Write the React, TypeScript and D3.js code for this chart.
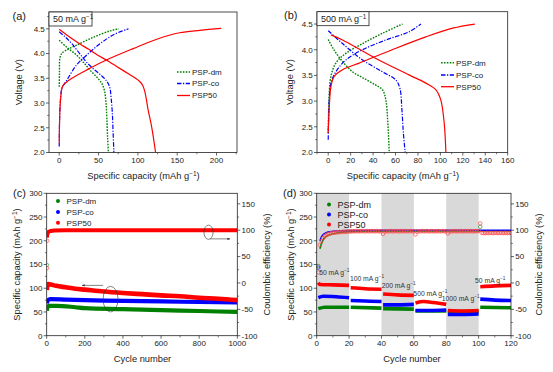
import React from "react";
import * as d3 from "d3";

type P = [number, number];

// ---------- Panel (a): 50 mA g-1 ----------
const aDmCharge: P[] = [[0, 3.33], [0.3, 3.6], [0.8, 3.9], [3, 4.0], [8, 4.06], [22, 4.17], [43.5, 4.33], [65, 4.46], [76, 4.5]];
const aDmDischarge: P[] = [[0, 4.27], [10, 4.12], [22, 3.97], [32, 3.8], [40, 3.65], [48, 3.52], [54, 3.4], [57.5, 3.25], [59.5, 3.0], [60.5, 2.7], [61.5, 2.3], [62.5, 2.0]];
const aCoCharge: P[] = [[0, 2.12], [0.5, 2.7], [1.5, 3.05], [3.5, 3.3], [10, 3.47], [22, 3.77], [35, 3.97], [52, 4.2], [69, 4.38], [88, 4.5]];
const aCoDischarge: P[] = [[0, 4.44], [8, 4.33], [16, 4.2], [26, 4.0], [35, 3.82], [45, 3.67], [54, 3.55], [61, 3.43], [64.5, 3.3], [66, 3.1], [67.5, 2.8], [68.5, 2.4], [69.5, 2.0]];
const aP50Charge: P[] = [[0, 2.2], [1, 2.9], [2.5, 3.2], [4, 3.33], [7.6, 3.4], [16, 3.5], [35, 3.67], [60, 3.87], [94, 4.1], [124, 4.29], [153, 4.42], [179, 4.47], [206, 4.51]];
const aP50Discharge: P[] = [[0, 4.49], [10, 4.37], [22, 4.24], [37, 4.09], [52, 3.94], [63, 3.84], [73, 3.74], [82, 3.65], [90, 3.57], [97, 3.5], [102, 3.44], [106, 3.36], [108.5, 3.25], [110.5, 3.1], [113, 2.86], [117.5, 2.52], [122.5, 2.0]];

// ---------- Panel (b): 500 mA g-1 ----------
const bDmCharge: P[] = [[0, 2.38], [0.9, 3.15], [2.4, 3.48], [6.8, 3.74], [15.7, 3.93], [30.6, 4.12], [48.4, 4.32], [66.2, 4.5]];
const bDmDischarge: P[] = [[0, 4.2], [5.3, 3.99], [12.8, 3.77], [21.7, 3.57], [32, 3.44], [42.5, 3.31], [48.4, 3.22], [51.4, 3.02], [53, 2.63], [54.4, 2.0]];
const bCoCharge: P[] = [[0, 2.25], [0.9, 3.02], [2.4, 3.35], [6.8, 3.57], [15.7, 3.8], [30.6, 4.0], [51.4, 4.19], [72.2, 4.35], [82.6, 4.5]];
const bCoDischarge: P[] = [[0, 4.37], [12.8, 4.12], [30.6, 3.8], [48.4, 3.57], [60.3, 3.41], [63.9, 3.25], [65.7, 2.83], [67, 2.38], [68.6, 2.0]];
const bP50Charge: P[] = [[0, 2.38], [1, 2.9], [2.4, 3.28], [5.3, 3.48], [12.8, 3.61], [27.6, 3.74], [57, 4.0], [87, 4.25], [111, 4.42], [130.7, 4.5]];
const bP50Discharge: P[] = [[2.4, 4.29], [12.8, 4.19], [42.5, 3.83], [72, 3.51], [87, 3.35], [96, 3.22], [100.4, 3.02], [103.4, 2.57], [104.9, 2.0]];

// ---------- Panel (c): long cycling ----------
const cDmCap: P[] = [[1, 53], [5, 60], [12, 63], [50, 63], [150, 60], [200, 58], [400, 56], [600, 54], [800, 52], [1000, 50]];
const cCoCap: P[] = [[1, 68], [5, 74], [20, 77], [100, 76], [300, 74], [500, 73], [700, 71.5], [1000, 70]];
const cP50Cap: P[] = [[1, 96], [3, 105], [8, 109], [20, 108], [50, 105], [100, 102], [150, 99], [200, 97], [300, 93], [400, 90], [500, 87.5], [600, 85], [700, 83], [800, 80], [900, 78], [1000, 75]];
const cP50Eff: P[] = [[1, 86], [3, 91], [6, 95], [10, 97], [20, 98.5], [40, 99.5], [100, 100], [1000, 100]];
const cOutliers: { cycle: number; eff: number; series: string }[] = [
  { cycle: 2, eff: 34, series: "dm" },
  { cycle: 2, eff: 28, series: "p50" },
  { cycle: 3, eff: 80, series: "p50" },
];
const cEllipses = [
  { cycle: 849, cap: 218, rc: 24, rv: 15 },
  { cycle: 335, cap: 77, rc: 39, rv: 27 },
];
const cArrows = [
  { c1: 857, v1: 204, c2: 962, v2: 204 },
  { c1: 296, v1: 106, c2: 185, v2: 106 },
];

// ---------- Panel (d): rate capability ----------
const dDmCap: P[][] = [
  [[1, 57], [5, 60], [20, 60]],
  [[21, 60], [40, 58]],
  [[41, 57], [60, 56]],
  [[61, 52], [80, 52]],
  [[81, 51], [100, 51]],
  [[101, 60], [120, 59]],
];
const dCoCap: P[][] = [
  [[1, 80], [4, 83], [12, 82], [20, 80]],
  [[21, 74], [30, 73], [40, 72]],
  [[41, 65], [50, 65], [60, 66]],
  [[61, 53], [70, 53], [80, 54]],
  [[81, 45], [90, 45], [100, 46]],
  [[101, 77], [110, 75], [120, 74]],
];
const dP50Cap: P[][] = [
  [[1, 112], [2, 108], [10, 107], [20, 106]],
  [[21, 101], [30, 99], [40, 98]],
  [[41, 88], [50, 86], [60, 85]],
  [[61, 69], [66, 72], [72, 70], [80, 66]],
  [[81, 53], [90, 52], [100, 53]],
  [[101, 103], [110, 105], [120, 106]],
];
const dP50Eff: number[] = [
  20, 72, 80, 85, 89, 91, 92.5, 93.5, 94.5, 95, 95.5, 96, 96, 96.5, 96.5, 97, 97, 97, 97.5, 97.5,
  98, 98, 98, 98, 98.5, 98, 98, 98.5, 98, 98, 98.5, 98, 98, 98.5, 98, 98, 98.5, 98, 98, 98,
  93, 97.5, 98, 98, 98, 98.5, 98, 98, 98.5, 98, 98, 98.5, 98, 98, 98.5, 98, 98, 98.5, 98, 98,
  92, 97.5, 98, 98, 98.5, 98, 98, 98.5, 98, 98, 98.5, 98, 98, 98, 98.5, 98, 98, 98.5, 98, 98,
  94, 97.5, 98, 98, 98.5, 98, 98, 98, 98.5, 98, 98, 98.5, 98, 98, 98.5, 98, 98, 98.5, 98, 98.5,
  113, 95, 94.5, 94.5, 95, 94.5, 95, 95, 94.5, 95, 95, 94.5, 95, 95, 94.5, 95, 95, 94.5, 95, 95,
];
const dCoEff: P[] = [[2, 80], [3, 88], [4, 92], [5, 94], [7, 96.5], [10, 98], [15, 99], [20, 99.5], [40, 100], [120, 100]];
const dDmEff: P[] = [[2, 65], [3, 75], [4, 82], [5, 86], [7, 90], [10, 93], [15, 96], [20, 97], [30, 98], [120, 98.5]];
const dOpenExtra: { cycle: number; eff: number; series: string }[] = [
  { cycle: 1, eff: 32, series: "dm" },
  { cycle: 1, eff: 29, series: "co" },
  { cycle: 101, eff: 106.5, series: "dm" },
];
const dBands: P[] = [[0, 20], [40, 60], [80, 100]];
const dRateLabels: { cycle: number; cap: number; rate: string }[] = [
  { cycle: 1.5, cap: 127, rate: "50" },
  { cycle: 20.5, cap: 115, rate: "100" },
  { cycle: 40.1, cap: 101.5, rate: "200" },
  { cycle: 59.7, cap: 84, rate: "500" },
  { cycle: 77.2, cap: 73.5, rate: "1000" },
  { cycle: 97.8, cap: 112, rate: "50" },
];

// ---------- ticks ----------
const aXTicks = [0, 50, 100, 150, 200];
const bXTicks = [0, 20, 40, 60, 80, 100, 120, 140, 160];
const vTicks = [2.0, 2.5, 3.0, 3.5, 4.0, 4.5];
const cXTicks = [0, 200, 400, 600, 800, 1000];
const dXTicks = [0, 20, 40, 60, 80, 100, 120];
const capTicks = [0, 50, 100, 150, 200, 250, 300];
const effTicks = [-100, -50, 0, 50, 100, 150];

const seriesNames = ["PSP-dm", "PSP-co", "PSP50"];
const GREEN = "#008000";
const BLUE = "#0000ff";
const RED = "#ff0000";
const colorOf: Record<string, string> = { dm: GREEN, co: BLUE, p50: RED };
const FONT = "'Liberation Sans', Arial, Helvetica, sans-serif";
const AXC = "#222";

function minorOf(major: number[], domain: number[]) {
  const step = major[1] - major[0];
  const lo = Math.min(domain[0], domain[1]);
  const hi = Math.max(domain[0], domain[1]);
  const out: number[] = [];
  for (let i = -1; i < major.length; i++) {
    const v = major[0] + (i + 0.5) * step;
    if (v >= lo && v <= hi) out.push(v);
  }
  return out;
}

type S = d3.ScaleLinear<number, number>;

function Sup({ pre, post = "" }: { pre: string; post?: string }) {
  return (
    <>
      {pre}
      <tspan dy={-3} fontSize="70%">−1</tspan>
      <tspan dy={3}>{post}</tspan>
    </>
  );
}

function BottomAxis({ s, y, major, fmt }: { s: S; y: number; major: number[]; fmt: (v: number) => string }) {
  const minor = minorOf(major, s.domain());
  return (
    <g>
      {major.map((v) => (
        <line key={"M" + v} x1={s(v)} x2={s(v)} y1={y} y2={y + 3} stroke={AXC} strokeWidth={0.7} />
      ))}
      {minor.map((v) => (
        <line key={"m" + v} x1={s(v)} x2={s(v)} y1={y} y2={y + 1.8} stroke={AXC} strokeWidth={0.6} />
      ))}
      {major.map((v) => (
        <text key={"t" + v} x={s(v)} y={y + 10.4} textAnchor="middle" fontSize={8} fill="#222">
          {fmt(v)}
        </text>
      ))}
    </g>
  );
}

function SideAxis({ s, x, major, fmt, side }: { s: S; x: number; major: number[]; fmt: (v: number) => string; side: "left" | "right" }) {
  const minor = minorOf(major, s.domain());
  const d = side === "left" ? -1 : 1;
  return (
    <g>
      {major.map((v) => (
        <line key={"M" + v} x1={x} x2={x + d * 3} y1={s(v)} y2={s(v)} stroke={AXC} strokeWidth={0.7} />
      ))}
      {minor.map((v) => (
        <line key={"m" + v} x1={x} x2={x + d * 1.8} y1={s(v)} y2={s(v)} stroke={AXC} strokeWidth={0.6} />
      ))}
      {major.map((v) => (
        <text
          key={"t" + v}
          x={x + d * 4.2}
          y={s(v)}
          dy="0.35em"
          textAnchor={side === "left" ? "end" : "start"}
          fontSize={8}
          fill="#222"
        >
          {fmt(v)}
        </text>
      ))}
    </g>
  );
}

function VTitle({ x, y, children }: { x: number; y: number; children: React.ReactNode }) {
  return (
    <text transform={`translate(${x},${y}) rotate(-90)`} dy="0.35em" textAnchor="middle" fontSize={9.3} fill="#222">
      {children}
    </text>
  );
}

const styles = {
  dm: { stroke: GREEN, dash: "1.6 1.3", w: 1.4 },
  co: { stroke: BLUE, dash: "4.5 1.5 1.2 1.5", w: 1.2 },
  p50: { stroke: RED, dash: "", w: 1.2 },
};

function VoltagePanel({
  L, R, T, B, xDom, yDom, xTicks, curves, label, rate, boxW, legX, legY, xTitleX,
  yTitleX,
}: {
  L: number; R: number; T: number; B: number; xDom: [number, number]; yDom: [number, number];
  xTicks: number[]; curves: { key: "dm" | "co" | "p50"; data: P[] }[]; label: string; rate: string;
  boxW: number; legX: number; legY: number[]; xTitleX: number; yTitleX: number;
}) {
  const x = d3.scaleLinear().domain(xDom).range([L, R]);
  const y = d3.scaleLinear().domain(yDom).range([B, T]);
  const line = d3
    .line<P>()
    .x((d) => x(d[0]))
    .y((d) => y(d[1]))
    .curve(d3.curveCatmullRom.alpha(0.5));
  const keys: ("dm" | "co" | "p50")[] = ["dm", "co", "p50"];
  return (
    <g>
      <defs>
        <clipPath id={"clip" + label}>
          <rect x={L} y={T} width={R - L} height={B - T} />
        </clipPath>
      </defs>
      <g clipPath={`url(#clip${label})`}>
        {curves.map((c, i) => (
          <path
            key={i}
            d={line(c.data) || ""}
            fill="none"
            stroke={styles[c.key].stroke}
            strokeWidth={styles[c.key].w}
            strokeDasharray={styles[c.key].dash}
          />
        ))}
      </g>
      <rect x={L} y={T} width={R - L} height={B - T} fill="none" stroke={AXC} strokeWidth={0.8} />
      <BottomAxis s={x} y={B} major={xTicks} fmt={(v) => String(v)} />
      <SideAxis s={y} x={L} major={vTicks} fmt={d3.format(".1f")} side="left" />
      <rect x={L} y={T} width={boxW} height={14} fill="#fff" stroke={AXC} strokeWidth={0.8} />
      <text x={L + 4} y={T + 10.2} fontSize={9} fill="#222">
        <Sup pre={rate + " mA g"} />
      </text>
      {keys.map((k, i) => (
        <g key={k}>
          <line
            x1={legX}
            x2={legX + 13}
            y1={legY[i]}
            y2={legY[i]}
            stroke={styles[k].stroke}
            strokeWidth={styles[k].w + 0.1}
            strokeDasharray={styles[k].dash}
          />
          <text x={legX + 15} y={legY[i]} dy="0.35em" fontSize={8} fill="#222">
            {seriesNames[i]}
          </text>
        </g>
      ))}
      <text x={xTitleX} y={B + 26} textAnchor="middle" fontSize={9.3} fill="#222">
        <Sup pre="Specific capacity (mAh g" post=")" />
      </text>
      <VTitle x={yTitleX} y={(T + B) / 2}>Voltage (V)</VTitle>
    </g>
  );
}

function CyclePanelFrame({
  L, R, T, B, x, yl, yr, xTicks, xTitleX, lTitleX, rTitleX,
}: {
  L: number; R: number; T: number; B: number; x: S; yl: S; yr: S; xTicks: number[];
  xTitleX: number; lTitleX: number; rTitleX: number;
}) {
  return (
    <g>
      <rect x={L} y={T} width={R - L} height={B - T} fill="none" stroke={AXC} strokeWidth={0.8} />
      <BottomAxis s={x} y={B} major={xTicks} fmt={(v) => String(v)} />
      <SideAxis s={yl} x={L} major={capTicks} fmt={(v) => String(v)} side="left" />
      <SideAxis s={yr} x={R} major={effTicks} fmt={(v) => String(v)} side="right" />
      <text x={xTitleX} y={B + 26.3} textAnchor="middle" fontSize={9.3} fill="#222">
        Cycle number
      </text>
      <VTitle x={lTitleX} y={(T + B) / 2}>
        <Sup pre="Specific capacity (mAh g" post=")" />
      </VTitle>
      <VTitle x={rTitleX} y={(T + B) / 2}>Coulombic efficiency (%)</VTitle>
    </g>
  );
}

function DotLegend({ x, ys, fs }: { x: number; ys: number[]; fs: number }) {
  const cols = [GREEN, BLUE, RED];
  return (
    <g>
      {seriesNames.map((n, i) => (
        <g key={n}>
          <circle cx={x} cy={ys[i]} r={2} fill={cols[i]} />
          <text x={x + 8.5} y={ys[i]} dy="0.35em" fontSize={fs} fill="#222">
            {n}
          </text>
        </g>
      ))}
    </g>
  );
}

function PanelC() {
  const L = 46.7, R = 237.3, T = 193.3, B = 335.7;
  const x = d3.scaleLinear().domain([0, 1000]).range([L, R]);
  const yl = d3.scaleLinear().domain([0, 300]).range([B, T]);
  const yr = d3.scaleLinear().domain([-100, 170]).range([B, T]);
  const lineL = d3.line<P>().x((d) => x(d[0])).y((d) => yl(d[1])).curve(d3.curveMonotoneX);
  const lineR = d3.line<P>().x((d) => x(d[0])).y((d) => yr(d[1])).curve(d3.curveMonotoneX);
  return (
    <g>
      <defs>
        <clipPath id="clipC">
          <rect x={L} y={T} width={R - L} height={B - T} />
        </clipPath>
      </defs>
      <g clipPath="url(#clipC)">
        <path d={lineL(cDmCap) || ""} fill="none" stroke={GREEN} strokeWidth={4.2} />
        <path d={lineL(cCoCap) || ""} fill="none" stroke={BLUE} strokeWidth={4.2} />
        <path d={lineL(cP50Cap) || ""} fill="none" stroke={RED} strokeWidth={4.6} />
        <path d={lineR(cP50Eff) || ""} fill="none" stroke={RED} strokeWidth={4} />
        {cOutliers.map((o, i) => (
          <circle key={i} cx={x(o.cycle)} cy={yr(o.eff)} r={1.7} fill="#fff" stroke={colorOf[o.series]} strokeWidth={0.6} opacity={0.8} />
        ))}
      </g>
      {cEllipses.map((e, i) => (
        <ellipse
          key={i}
          cx={x(e.cycle)}
          cy={yl(e.cap)}
          rx={x(e.cycle + e.rc) - x(e.cycle)}
          ry={yl(e.cap - e.rv) - yl(e.cap)}
          fill="none"
          stroke="#333"
          strokeWidth={0.6}
        />
      ))}
      {cArrows.map((a, i) => (
        <line
          key={i}
          x1={x(a.c1)}
          y1={yl(a.v1)}
          x2={x(a.c2)}
          y2={yl(a.v2)}
          stroke="#333"
          strokeWidth={0.6}
          markerEnd="url(#arrowHead)"
        />
      ))}
      <DotLegend x={58} ys={[201, 212, 222.7]} fs={8} />
      <CyclePanelFrame L={L} R={R} T={T} B={B} x={x} yl={yl} yr={yr} xTicks={cXTicks} xTitleX={142.5} lTitleX={17} rTitleX={267} />
    </g>
  );
}

function PanelD() {
  const L = 316.7, R = 511, T = 193.3, B = 335.7;
  const x = d3.scaleLinear().domain([0, 120]).range([L, R]);
  const yl = d3.scaleLinear().domain([0, 300]).range([B, T]);
  const yr = d3.scaleLinear().domain([-100, 170]).range([B, T]);
  const lineL = d3.line<P>().x((d) => x(d[0])).y((d) => yl(d[1])).curve(d3.curveMonotoneX);
  const lineR = d3.line<P>().x((d) => x(d[0])).y((d) => yr(d[1])).curve(d3.curveMonotoneX);
  return (
    <g>
      {dBands.map((b, i) => (
        <rect key={i} x={x(b[0])} y={T} width={x(b[1]) - x(b[0])} height={B - T} fill="#d9d9d9" />
      ))}
      <defs>
        <clipPath id="clipD">
          <rect x={L} y={T} width={R - L} height={B - T} />
        </clipPath>
      </defs>
      <g clipPath="url(#clipD)">
        {dDmCap.map((seg, i) => (
          <path key={"g" + i} d={lineL(seg) || ""} fill="none" stroke={GREEN} strokeWidth={3.6} />
        ))}
        {dCoCap.map((seg, i) => (
          <path key={"b" + i} d={lineL(seg) || ""} fill="none" stroke={BLUE} strokeWidth={3.6} />
        ))}
        {dP50Cap.map((seg, i) => (
          <path key={"r" + i} d={lineL(seg) || ""} fill="none" stroke={RED} strokeWidth={3.6} />
        ))}
        <path d={lineR(dDmEff) || ""} fill="none" stroke={GREEN} strokeWidth={1.6} />
        <path d={lineR(dCoEff) || ""} fill="none" stroke={BLUE} strokeWidth={1.5} />
        {dOpenExtra.map((o, i) => (
          <circle key={"o" + i} cx={x(o.cycle)} cy={yr(o.eff)} r={1.8} fill="none" stroke={colorOf[o.series]} strokeWidth={0.6} />
        ))}
        {dP50Eff.map((v, i) => (
          <circle key={"e" + i} cx={x(i + 1)} cy={yr(v)} r={1.8} fill="none" stroke="#ff4a4a" strokeWidth={0.7} />
        ))}
      </g>
      {dRateLabels.map((r, i) => (
        <text key={i} x={x(r.cycle)} y={yl(r.cap)} fontSize={6.8} fill="#333">
          <Sup pre={r.rate + " mA g"} />
        </text>
      ))}
      <DotLegend x={329} ys={[204.5, 214.5, 224.5]} fs={9} />
      <CyclePanelFrame L={L} R={R} T={T} B={B} x={x} yl={yl} yr={yr} xTicks={dXTicks} xTitleX={412} lTitleX={291} rTitleX={539} />
    </g>
  );
}

export default function App() {
  return (
    <div style={{ position: "absolute", left: 0, top: 0 }}>
      <svg width={553} height={372} style={{ display: "block", background: "#fff" }} fontFamily={FONT}>
        <defs>
          <marker id="arrowHead" viewBox="0 0 10 10" refX="9" refY="5" markerWidth="5" markerHeight="5" orient="auto">
            <path d="M0,1 L10,5 L0,9 z" fill="#333" />
          </marker>
        </defs>
        <VoltagePanel
          L={49} R={237} T={12} B={152.5}
          xDom={[-13, 226]} yDom={[2, 4.84]} xTicks={aXTicks}
          curves={[
            { key: "dm", data: aDmCharge }, { key: "dm", data: aDmDischarge },
            { key: "co", data: aCoCharge }, { key: "co", data: aCoDischarge },
            { key: "p50", data: aP50Charge }, { key: "p50", data: aP50Discharge },
          ]}
          label="A" rate="50" boxW={43} legX={177} legY={[72, 83.5, 95.5]}
          xTitleX={143.5} yTitleX={18.3}
        />
        <VoltagePanel
          L={317} R={507.7} T={11.7} B={152.5}
          xDom={[-10, 160]} yDom={[2, 4.74]} xTicks={bXTicks}
          curves={[
            { key: "dm", data: bDmCharge }, { key: "dm", data: bDmDischarge },
            { key: "co", data: bCoCharge }, { key: "co", data: bCoDischarge },
            { key: "p50", data: bP50Charge }, { key: "p50", data: bP50Discharge },
          ]}
          label="B" rate="500" boxW={52} legX={441} legY={[62.7, 75, 86.7]}
          xTitleX={403} yTitleX={289.3}
        />
        <PanelC />
        <PanelD />
        <text x={12.5} y={19.5} fontSize={11} fill="#222">(a)</text>
        <text x={284} y={19} fontSize={11} fill="#222">(b)</text>
        <text x={13} y={197} fontSize={11} fill="#222">(c)</text>
        <text x={283} y={197} fontSize={11} fill="#222">(d)</text>
      </svg>
    </div>
  );
}
